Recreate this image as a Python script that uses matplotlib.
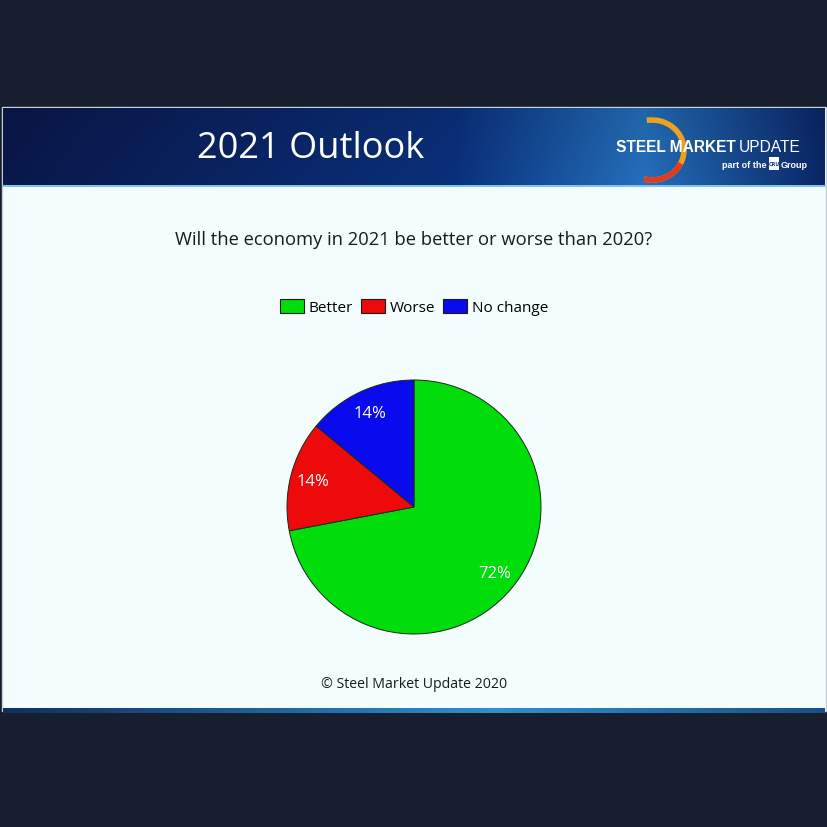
import numpy as np
import matplotlib.pyplot as plt
from matplotlib.patches import Rectangle, Patch, Arc

# data
labels = ['Better', 'Worse', 'No change']
shares = [72, 14, 14]
colors = ['#00dd0b', '#ee0a0a', '#0a0aee']

title = '2021 Outlook'
question = 'Will the economy in 2021 be better or worse than 2020?'
footer = '\u00a9 Steel Market Update 2020'

W = H = 828
fig = plt.figure(figsize=(8.28, 8.28), dpi=100, facecolor='#161e2f')
bg = fig.add_axes([0, 0, 1, 1])
bg.set_xlim(0, W)
bg.set_ylim(H, 0)
bg.axis('off')

# slide body
bg.add_patch(Rectangle((2, 108), 824, 604, fc='#f3fdfe', ec='#c8d0d8', lw=1))

# header gradient
xs = np.linspace(0, 1, 400)
left = np.array([0x0a, 0x18, 0x4a]) / 255
mid = np.array([0x0a, 0x30, 0x7c]) / 255
bright = np.array([0x24, 0x70, 0xbc]) / 255
right = np.array([0x0a, 0x26, 0x66]) / 255
row = np.zeros((400, 3))
for i, t in enumerate(xs):
    if t < 0.55:
        row[i] = left + (mid - left) * (t / 0.55)
    elif t < 0.78:
        row[i] = mid + (bright - mid) * ((t - 0.55) / 0.23)
    else:
        row[i] = bright + (right - bright) * ((t - 0.78) / 0.22)
grad = np.tile(row[None, :, :], (60, 1, 1))
vert = np.linspace(0.9, 1.0, 60)[:, None, None]
bg.imshow(grad * vert, extent=(3, 825, 186, 109), aspect='auto', zorder=2)
bg.plot([3, 825], [186.5, 186.5], color='#6ab8e8', lw=1.2, zorder=3)

# bottom strip
brow = np.zeros((400, 3))
for i, t in enumerate(xs):
    c1 = np.array([0x10, 0x30, 0x60]) / 255
    c2 = np.array([0x30, 0x90, 0xd0]) / 255
    f = 1 - abs(t - 0.6) / 0.6
    brow[i] = c1 + (c2 - c1) * max(f, 0)
bg.imshow(np.tile(brow[None, :, :], (4, 1, 1)), extent=(3, 825, 714, 709),
          aspect='auto', zorder=2)

bg.text(311, 149, title, color='white', fontsize=26, family='Open Sans',
        ha='center', va='center', zorder=4)

# logo (y axis is inverted, so positive angles point down)
bg.add_patch(Arc((652, 151), 64, 60, theta1=-100, theta2=105,
                  color='#f0a020', lw=4, zorder=3))
bg.add_patch(Arc((652, 151), 64, 60, theta1=25, theta2=105,
                  color='#e03a20', lw=4, zorder=3))
bg.text(736, 147, 'STEEL MARKET', color='white', fontsize=11.2,
        family='Liberation Sans', weight='bold', ha='right', va='center', zorder=4)
bg.text(739, 147, 'UPDATE', color='white', fontsize=11.2,
        family='Liberation Sans', ha='left', va='center', zorder=4)
bg.text(767, 165, 'part of the', color='white', fontsize=6.5,
        family='Liberation Sans', weight='bold', ha='right', va='center', zorder=4)
bg.add_patch(Rectangle((769, 158), 10, 13, fc='white', ec='none', zorder=4))
bg.text(774, 165, 'CRU', color='#0c3a8a', fontsize=3.5, weight='bold',
        ha='center', va='center', zorder=5)
bg.text(781, 165, 'Group', color='white', fontsize=6.5,
        family='Liberation Sans', weight='bold', ha='left', va='center', zorder=4)

bg.text(414, 240, question, color='#1a1a1a', fontsize=13.2, family='Open Sans',
        ha='center', va='center', zorder=4)
bg.text(414, 685, footer, color='#1a1a1a', fontsize=10.2, family='Open Sans',
        ha='center', va='center', zorder=4)

# pie
cx, cy, r = 414, 508, 127
pad = 4
ax = fig.add_axes([(cx - r - pad) / W, (H - cy - r - pad) / H,
                   (2 * r + 2 * pad) / W, (2 * r + 2 * pad) / H])
wedges, texts, autotexts = ax.pie(
    shares, colors=colors, startangle=90, counterclock=False,
    autopct='%d%%', pctdistance=0.82,
    wedgeprops=dict(edgecolor='#1a2a1a', linewidth=0.7),
    textprops=dict(color='white', fontsize=12, family='Open Sans'))
lim = (r + pad) / r
ax.set_xlim(-lim, lim)
ax.set_ylim(-lim, lim)
ax.set_aspect('equal')
ax.axis('off')

handles = [Patch(fc=c, ec='#1a1a1a', lw=0.8) for c in colors]
fig.legend(handles, labels, loc='center', bbox_to_anchor=(414 / W, 1 - 308 / H),
           ncol=3, frameon=False, handlelength=1.6,
           handleheight=1.1, handletextpad=0.3, columnspacing=0.5,
           prop=dict(family='Open Sans', size=11))

fig.savefig('out.png', dpi=100, facecolor=fig.get_facecolor())
